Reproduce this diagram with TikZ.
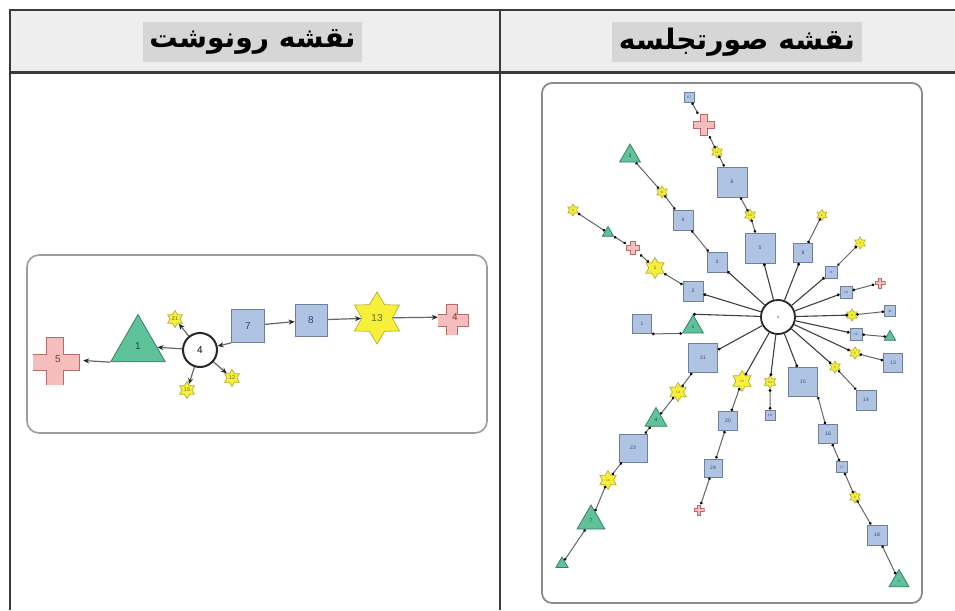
\documentclass[tikz,border=0pt]{standalone}
\usepackage{fontspec}
\usepackage{graphicx}
\setmainfont{Liberation Sans}
\newfontfamily\arabicfont[Script=Arabic]{DejaVu Sans}
\TeXXeTstate=1
\usetikzlibrary{shapes.geometric,arrows.meta}
\definecolor{hdrfill}{HTML}{EFEEEE}
\definecolor{hilite}{HTML}{D6D6D6}
\definecolor{tbl}{HTML}{3A3A3A}
\definecolor{sqfill}{HTML}{AFC3E2}
\definecolor{sqdraw}{HTML}{6F7F99}
\definecolor{sqtext}{HTML}{2E4A7A}
\definecolor{trfill}{HTML}{5EC29A}
\definecolor{trdraw}{HTML}{3C7F64}
\definecolor{trtext}{HTML}{1E4D3A}
\definecolor{stfill}{HTML}{F7F03A}
\definecolor{stdraw}{HTML}{B8B030}
\definecolor{sttext}{HTML}{6A6410}
\definecolor{crfill}{HTML}{F6BDBD}
\definecolor{crdraw}{HTML}{B86A6A}
\definecolor{crtext}{HTML}{8A3030}
\definecolor{panel}{HTML}{8C8C8C}
\tikzset{
  sq/.style={rectangle, fill=sqfill, draw=sqdraw, line width=0.9pt, minimum size=#1, inner sep=0pt, text=sqtext},
  tri/.style={regular polygon, regular polygon sides=3, fill=trfill, draw=trdraw, line width=0.8pt, minimum size=#1, inner sep=0pt, text=trtext},
  stars/.style={star, star points=6, star point ratio=1.7, fill=stfill, draw=stdraw, line width=0.7pt, minimum size=#1, inner sep=0pt, text=sttext},
  plus/.style={rectangle, inner sep=0pt, minimum size=#1, text=crtext,
    path picture={\filldraw[fill=crfill, draw=crdraw, line width=0.8pt, shift={(path picture bounding box.center)}]
      (-#1/2+0.5,-#1/6) -- (-#1/6,-#1/6) -- (-#1/6,-#1/2+0.5) -- (#1/6,-#1/2+0.5) -- (#1/6,-#1/6) -- (#1/2-0.5,-#1/6) -- (#1/2-0.5,#1/6) -- (#1/6,#1/6) -- (#1/6,#1/2-0.5) -- (-#1/6,#1/2-0.5) -- (-#1/6,#1/6) -- (-#1/2+0.5,#1/6) -- cycle;}},
  hub/.style={circle, draw=black!85, line width=2pt, fill=white, minimum size=#1, inner sep=0pt},
  larr/.style={draw=black!60, line width=1.2pt, -{Stealth[length=6pt,width=5pt,color=black!85]}},
  spoke/.style={draw=black!75, line width=1.1pt, -{Circle[length=2.8pt,color=black]}},
  chain/.style={draw=black!60, line width=1pt, {Circle[length=2.6pt,color=black]}-{Circle[length=2.6pt,color=black]}},
  lf/.style={font=\fontsize{10}{11}\selectfont},
  lsf/.style={font=\fontsize{5.5}{6}\selectfont},
  rf/.style={font=\fontsize{5}{5.5}\selectfont},
  rsf/.style={font=\fontsize{3.2}{3.5}\selectfont},
  hdr/.style={fill=hilite, inner sep=0pt, minimum height=40, text=black}
}
\begin{document}
\begin{tikzpicture}[x=1pt,y=-1pt]
\useasboundingbox (0,0) rectangle (955,610);
\fill[white] (0,0) rectangle (955,610);
% table
\fill[hdrfill] (10,10) rectangle (955,72);
\draw[tbl, line width=2.5pt] (10,610) -- (10,10) -- (955,10);
\draw[tbl, line width=3pt] (10,72) -- (955,72);
\draw[tbl, line width=2pt] (500,10) -- (500,610);
\node[hdr, minimum width=219] (hL) at (252.5,42) {\arabicfont\bfseries\resizebox{206pt}{!}{\beginR نقشه رونوشت\endR}};
\node[hdr, minimum width=250] (hR) at (737,42) {\arabicfont\bfseries\resizebox{236pt}{!}{\beginR نقشه صورتجلسه\endR}};
% panels
\draw[panel!85, line width=1.6pt, rounded corners=12] (27,255) rectangle (487,433);
\draw[panel, line width=1.8pt, rounded corners=10] (542,83) rectangle (922,603);

% ---------- left diagram ----------
\node[plus=50, lf] (L5) at (58,359) {5};
\node[tri=63, lf] (L1) at (138,346) {1};
\node[hub=34, lf] (L4) at (200,350) {4};
\node[stars=17, lsf] (L21) at (175,319) {21};
\node[stars=17, lsf] (L15) at (187,390) {15};
\node[stars=17, lsf] (L12) at (232,378) {12};
\node[sq=33, lf] (L7) at (248,326) {7};
\node[sq=32, lf] (L8) at (311,320) {8};
\node[stars=52, lf] (L13) at (377,318) {13};
\node[plus=34, lf] (Lx4) at (455,317) {4};
\draw[larr] (L4) -- (L1);
\draw[larr] (L1.corner 2) -- (L5);
\draw[larr] (L4) -- (L21);
\draw[larr] (L4) -- (L15);
\draw[larr] (L4) -- (L12);
\draw[larr] (L7.south west) -- (L4);
\draw[larr] (L7) -- (L8);
\draw[larr] (L8) -- (L13);
\draw[larr] (L13) -- (Lx4);

% ---------- right diagram ----------
\node[hub=34, line width=1.8pt, rsf] (R0) at (778,317) {4};
% chain A
\node[sq=30, rf] (sq5) at (760,248) {5};
\node[stars=12, rsf] (stA1) at (750,215) {10};
\node[sq=30, rf] (sq6) at (732,182) {6};
\node[stars=12, rsf] (stA2) at (717,152) {12};
\node[plus=22, rsf] (xA) at (704,125) {};
\node[sq=10, rsf] (sqA) at (689,97) {17};
% chain B
\node[sq=20, rf] (sq3) at (717,262) {3};
\node[sq=20, rf] (sq4) at (683,220) {4};
\node[stars=12, rsf] (stB) at (662,192) {11};
\node[tri=24, rf] (trB) at (630,156) {3};
% chain C
\node[sq=20, rf] (sq2) at (693,291) {2};
\node[stars=21, rf] (stC1) at (655,268) {1};
\node[plus=14, rsf] (xC) at (633,248) {};
\node[tri=13, rsf] (trC) at (608,233) {};
\node[stars=12, rsf] (stC2) at (573,210) {9};
% chain D
\node[tri=24, rf] (trD) at (693,327) {1};
\node[sq=19, rf] (sqD) at (642,324) {1};
% chain E
\node[sq=29, rf] (sq21) at (703,358) {21};
\node[stars=19, rsf] (stE1) at (678,392) {14};
\node[tri=25, rf] (trE1) at (656,420) {4};
\node[sq=28, rf] (sq23) at (633,448) {23};
\node[stars=19, rsf] (stE2) at (608,480) {16};
\node[tri=32, rf] (trE2) at (591,521) {7};
\node[tri=14, rsf] (trE3) at (562,564) {};
% chain F
\node[stars=21, rsf] (stF) at (742,381) {15};
\node[sq=19, rf] (sq20) at (728,421) {20};
\node[sq=18, rf] (sq24) at (713,468) {24};
\node[plus=11, rsf] (xF) at (699,510) {};
% chain G
\node[stars=13, rsf] (stG) at (770,382) {13};
\node[sq=10, rsf] (sqG) at (770,415) {19};
% chain H
\node[sq=29, rf] (sqH) at (803,382) {15};
\node[sq=19, rf] (sqH2) at (828,434) {16};
\node[sq=11, rsf] (sqH3) at (842,467) {17};
\node[stars=12, rsf] (stH) at (855,497) {8};
\node[sq=20, rf] (sqH4) at (877,535) {18};
\node[tri=23, rsf] (trH) at (899,581) {2};
% chain I
\node[stars=12, rsf] (stI) at (835,367) {6};
\node[sq=20, rf] (sqI) at (866,400) {14};
% chain J
\node[stars=12, rsf] (stJ) at (855,353) {5};
\node[sq=19, rf] (sqJ) at (893,363) {13};
% chain K
\node[sq=12, rsf] (sqK) at (856,334) {12};
\node[tri=13, rsf] (trK) at (890,337) {};
% chain L
\node[stars=12, rsf] (stL) at (852,315) {4};
\node[sq=11, rsf] (sqL) at (890,311) {11};
% chain M
\node[sq=12, rsf] (sqM) at (846,292) {10};
\node[plus=11, rsf] (xM) at (880,283) {};
% chain N
\node[sq=12, rsf] (sqN) at (831,272) {9};
\node[stars=12, rsf] (stN) at (860,243) {3};
% chain O
\node[sq=19, rf] (sqO) at (803,253) {8};
\node[stars=11, rsf] (stO) at (822,215) {2};

% spokes
\foreach \t in {sq5,sq3,sq2,sq21,stF,stG,sqH,stI,stJ,sqK,stL,sqM,sqN,sqO}
  \draw[spoke] (R0) -- (\t);
\draw[spoke] (R0) -- (trD.corner 1);
% chains
\draw[chain] (sq5) -- (stA1);
\draw[chain] (stA1) -- (sq6);
\draw[chain] (sq6) -- (stA2);
\draw[chain] (stA2) -- (xA);
\draw[chain] (xA) -- (sqA);
\draw[chain] (sq3) -- (sq4);
\draw[chain] (sq4) -- (stB);
\draw[chain] (stB) -- (trB);
\draw[chain] (sq2) -- (stC1);
\draw[chain] (stC1) -- (xC);
\draw[chain] (xC) -- (trC);
\draw[chain] (trC) -- (stC2);
\draw[chain] (trD.corner 2) -- (sqD.south east);
\draw[chain] (sq21) -- (stE1);
\draw[chain] (stE1) -- (trE1);
\draw[chain] (trE1) -- (sq23);
\draw[chain] (sq23) -- (stE2);
\draw[chain] (stE2) -- (trE2);
\draw[chain] (trE2) -- (trE3);
\draw[chain] (stF) -- (sq20);
\draw[chain] (sq20) -- (sq24);
\draw[chain] (sq24) -- (xF);
\draw[chain] (stG) -- (sqG);
\draw[chain] (sqH.south east) -- (sqH2);
\draw[chain] (sqH2) -- (sqH3);
\draw[chain] (sqH3) -- (stH);
\draw[chain] (stH) -- (sqH4);
\draw[chain] (sqH4) -- (trH);
\draw[chain] (stI) -- (sqI);
\draw[chain] (stJ) -- (sqJ);
\draw[chain] (sqK) -- (trK);
\draw[chain] (stL) -- (sqL);
\draw[chain] (sqM) -- (xM);
\draw[chain] (sqN) -- (stN);
\draw[chain] (sqO) -- (stO);
\end{tikzpicture}
\end{document}
